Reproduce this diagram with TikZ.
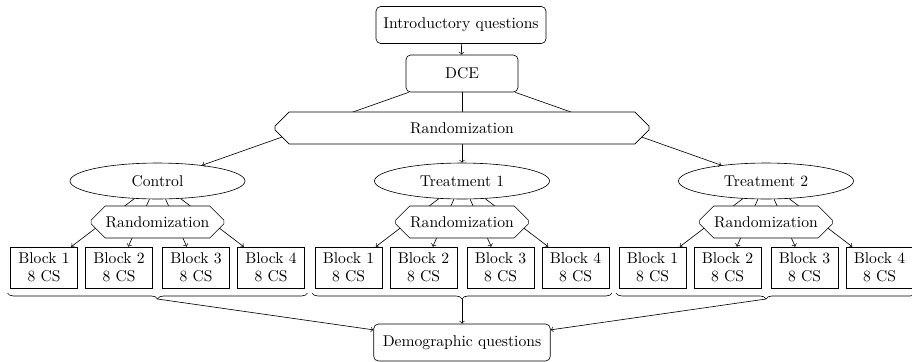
\documentclass[tikz,border=0pt]{standalone}
\usetikzlibrary{shapes.geometric,shapes.misc,decorations.pathreplacing,backgrounds}
\begin{document}
\begin{tikzpicture}[x=0.64pt,y=-0.64pt,
  rbox/.style={draw,rounded corners=3pt,minimum width=#1,minimum height=23.7pt,inner sep=0pt},
  randbox/.style={draw,chamfered rectangle,chamfered rectangle xsep=6pt,chamfered rectangle ysep=5.5pt,fill=white,minimum width=#1,minimum height=20.5pt,inner sep=0pt},
  grp/.style={draw,ellipse,minimum width=112pt,minimum height=23pt,inner sep=0pt},
  blk/.style={draw,align=center,minimum width=42.9pt,minimum height=26.2pt,inner sep=0pt,font=\linespread{0.95}\selectfont},
  arr/.style={->},
  brc/.style={decorate,decoration={brace,mirror,amplitude=3.8pt}}]
\useasboundingbox (0,0) rectangle (912,361);
\node[rbox=108.8pt] (intro) at (461,25) {Introductory questions};
\node[rbox=71.7pt] (dce) at (462,73.5) {DCE};
\node[grp] (g1) at (157.5,181) {Control};
\node[grp] (g2) at (462,181) {Treatment 1};
\node[grp] (g3) at (766,181) {Treatment 2};
\foreach \g/\x in {1/157.5,2/462,3/766}{
  \node[blk] (b\g a) at (\x-113.5,267.5) {Block 1\\8 CS};
  \node[blk] (b\g b) at (\x-38.5,267.5) {Block 2\\8 CS};
  \node[blk] (b\g c) at (\x+38.5,267.5) {Block 3\\8 CS};
  \node[blk] (b\g d) at (\x+113.5,267.5) {Block 4\\8 CS};
  \coordinate (bl\g) at (\x-150,293);
  \coordinate (br\g) at (\x+150,293);
  \coordinate (tip\g) at (\x,299);
  \draw[brc] (bl\g) -- (br\g);
}
\node[rbox=113pt] (demo) at (462,342.5) {Demographic questions};
\begin{scope}[on background layer]
\draw[arr] (intro) -- (dce);
\foreach \g in {1,2,3}{
  \draw[arr] (dce) -- (g\g);
  \foreach \b in {a,b,c,d}{\draw[arr] (g\g) -- (b\g\b);}
  \draw[arr] (tip\g) -- (demo);
}
\end{scope}
\node[randbox=239.4pt] (rand) at (462,128) {Randomization};
\node[randbox=85pt] (r1) at (157.5,222) {Randomization};
\node[randbox=85pt] (r2) at (462,222) {Randomization};
\node[randbox=85pt] (r3) at (766,222) {Randomization};
\end{tikzpicture}
\end{document}
